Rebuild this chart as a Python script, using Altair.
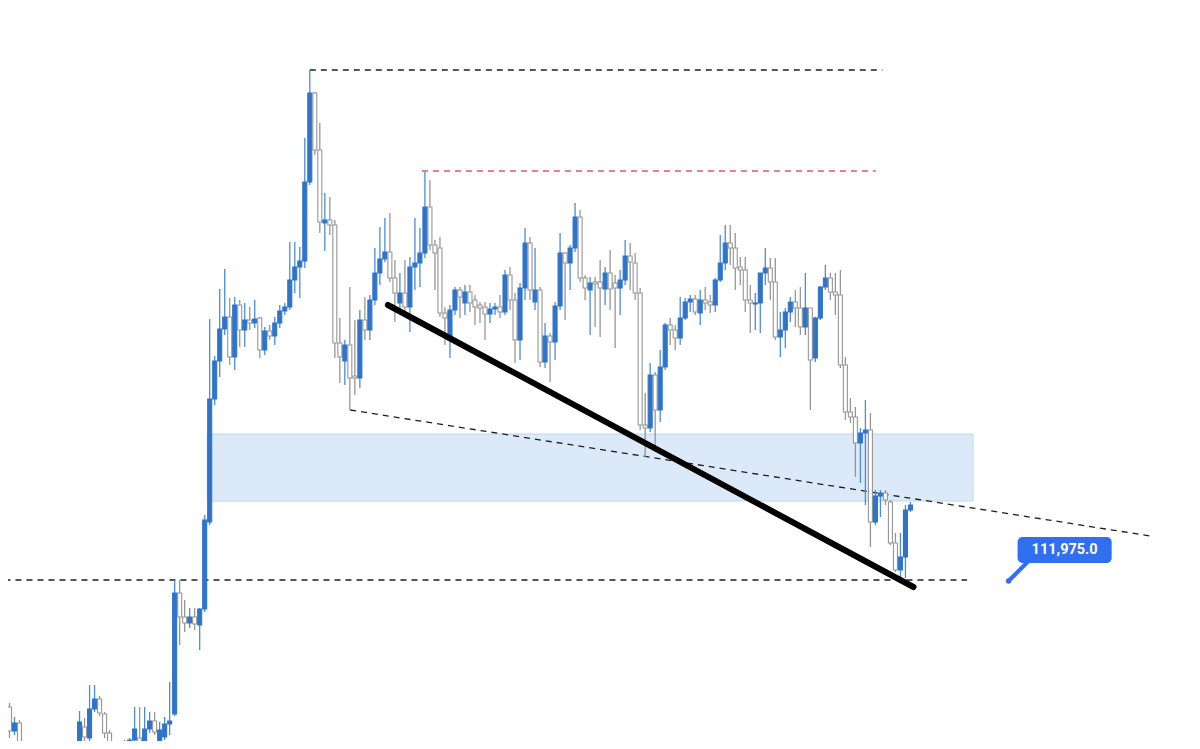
import altair as alt
import pandas as pd

# ---- candle data (BTC-like prices) ----
opens = [108975,108800,108200,108400,107475,106975,107350,107025,107600,107225,
106725,107100,107350,106975,106725,107475,108300,108025,108750,109000,
108625,108150,107750,107475,107675,107675,107975,108025,107750,108250,
108450,107825,108050,108375,108625,111650,111050,110900,111050,110850,
111250,113425,116500,117450,118250,118550,117550,118850,118225,118475,
118400,118525,117725,118200,118075,118400,118700,118800,119475,119800,
119950,121925,124150,122725,120900,120975,120850,117900,117450,117850,
117075,117025,118475,118225,118975,119650,120000,120175,119525,118900,
119150,118800,119800,119900,120150,121300,120350,120275,118650,117975,
118725,119225,118900,119175,118975,118850,118800,118625,118750,118800,
118675,119600,118975,117975,119275,120400,118925,119225,117425,118075,
117925,118825,120150,119900,120275,121050,119525,119225,119425,119425,
119250,119650,119400,119275,119475,120075,119900,119150,115850,115775,
117100,116225,117300,118350,118225,118025,118525,118925,119000,118650,
118975,118925,118850,119475,119900,120400,120275,119800,119725,118975,
118875,118900,119650,119775,119425,118050,118225,118675,118925,118775,
118300,118775,117525,118525,119300,119525,119175,119100,117350,116175,
116050,115400,115650,115725,113425,114075,114150,113925,112900,
112225,112550,113725]

highs = [109225,108900,108550,108475,107600,107475,107675,107875,107725,107350,
107225,107525,107600,107225,107475,108700,108525,109350,109350,109075,
108675,108225,107925,107775,107975,108025,108800,108800,108800,108675,
108675,108425,108550,109425,111975,111975,111475,111275,111275,111275,
113600,118500,117575,119250,119750,119025,119050,118975,118900,118800,
118975,118550,118300,118350,118550,118850,118900,120425,120425,120300,
123025,124725,124175,123400,121650,121550,120975,118525,117975,119300,
118475,118725,119050,119100,120275,120800,121025,121150,119975,119650,
119975,120050,121025,120775,122175,121975,120475,120550,118800,118850,
119300,119300,119350,119350,119100,118925,118925,118900,118900,119100,
119725,119800,119150,119400,120775,120550,120275,119300,118400,118150,
118925,120650,120175,120350,121400,121225,119600,119550,119550,119975,
119800,120225,119600,119725,120475,120400,120150,119275,116650,117400,
117175,117725,118400,118525,118350,119050,119025,119100,119100,119225,
119300,119100,119525,120600,120850,120850,120650,120050,120050,119350,
119150,119650,120275,120025,120025,118675,118775,119050,119225,119300,
119650,118775,118550,119325,119850,119650,119650,119725,117550,116525,
116300,115775,116475,116150,114225,114225,114225,113975,113150,
113150,113850,113925]

lows = [107225,108025,108100,107350,106975,106850,106925,106975,107100,106600,
106525,106975,106850,106600,106600,107350,107850,107925,108675,108575,
108025,107600,107350,107350,107525,107600,107925,107675,107675,108150,
108100,107775,107975,108100,108575,110350,110675,110775,110725,110225,
111175,113350,116350,117050,118100,117350,117225,117800,117800,118225,
118275,117525,117600,117975,117850,118275,118600,118725,119150,119025,
119775,121850,122600,120650,120200,120600,117525,116900,116850,116225,
116600,116775,117975,117975,118850,119350,119925,119425,118425,118725,
118600,118175,119225,119300,120025,120225,119225,118550,117850,117525,
118600,118525,118600,118675,118350,118400,117975,118400,118600,118525,
118600,118725,117400,117475,118975,118975,118725,117300,117275,116925,
117475,118725,118475,119225,120175,119425,118975,118100,118300,118050,
118850,118725,117775,118600,119350,119225,118975,115725,115050,115675,
115175,115925,117225,117850,117725,117850,118475,118675,118600,118350,
118725,118650,118675,119425,119725,119850,119225,119350,118675,118150,
118225,118150,119350,118975,117975,117550,117775,118425,118300,118100,
118100,116225,117425,118475,119225,118975,118600,117275,115975,115900,
114550,114400,113850,112800,113350,113550,113850,112850,112175,
111925,112025,113675]

closes = [107475,108200,108400,107475,107100,107350,107025,107600,107225,106725,
107100,107350,106975,106725,107225,108425,108050,108750,109000,108650,
108150,107750,107475,107675,107850,107975,108250,107750,108250,108450,
108175,108225,108375,108450,111650,111050,110900,111050,110875,111250,
113475,116500,117450,118250,118550,117550,118850,118225,118475,118400,
118500,117725,118200,118075,118400,118700,118800,119475,119800,119950,
121925,124150,122725,120925,120975,120850,117900,117550,117850,117025,
117025,118475,118225,118975,119650,120000,120175,119525,119150,119150,
118800,119800,119900,120150,121300,120350,120150,118650,118525,118725,
119225,119050,119175,118900,118800,118775,118625,118750,118800,118675,
119600,118975,117975,119275,120400,119225,119225,117425,118075,117925,
118825,120150,119900,120275,121050,119525,119275,119400,119375,119275,
119650,119250,119275,119475,120075,119925,119150,115850,115775,117100,
116225,117300,118350,118225,118025,118525,118925,119000,118675,118975,
118900,118850,119475,119900,120400,120275,119775,119725,118975,118900,
118900,119650,119775,119425,118050,118225,118675,118925,118775,118300,
118775,117475,118525,119300,119525,119175,119100,117350,116175,116050,
115400,115650,115725,113425,114075,114150,113975,112900,112225,
112550,113725,113850]

# ---- annotation levels (prices) and their candle-index spans ----
level_names = ["high", "swing", "support"]
level_start = [61, 83.4, 0]
level_end = [175.4, 174.05, 192.3]
level_price = [124725, 122200, 111975]

trend_start = [69.06, 116225]
trend_end = [228.9, 113075]

thick_start = [76.6, 118850]
thick_end = [181.6, 111800]

zone_x = [40.5, 193.5]
zone_price = [113950, 115625]

label_text = "111,975.0"
label_box_x = [202.4, 221.2]
label_box_price = [112400, 113050]
label_point = [200.6, 111950]
label_tail_top = [204.6, 112450]
label_text_pos = [211.8, 112725]

# ---- frames ----
n = len(opens)
candles = pd.DataFrame({
    "i": list(range(n)),
    "open": opens, "high": highs, "low": lows, "close": closes,
})
candles["dir"] = ["up" if c >= o else "down" for o, c in zip(opens, closes)]

xs = alt.Scale(domain=[1.7036, 236.25], nice=False, zero=False)
ys = alt.Scale(domain=[107950, 126275], nice=False, zero=False)

X = lambda f: alt.X(f, type="quantitative", scale=xs, axis=None)
Y = lambda f: alt.Y(f, type="quantitative", scale=ys, axis=None)

zone = alt.Chart(pd.DataFrame({"x0": [zone_x[0]], "x1": [zone_x[1]],
                               "y0": [zone_price[0]], "y1": [zone_price[1]]})
                 ).mark_rect(fill="#dce9f9", stroke="#bcd5f1", strokeWidth=1, clip=True
                 ).encode(x=X("x0"), x2="x1", y=Y("y0"), y2="y1")

wicks = alt.Chart(candles).mark_rule(strokeWidth=1.3, clip=True).encode(
    x=X("i"), y=Y("low"), y2="high",
    color=alt.Color("dir:N", scale=alt.Scale(domain=["up", "down"],
                                             range=["#4a8cdb", "#969696"]), legend=None))

bodies = alt.Chart(candles).mark_bar(size=4, strokeWidth=1.1, clip=True).encode(
    x=X("i"), y=Y("open"), y2="close",
    fill=alt.Fill("dir:N", scale=alt.Scale(domain=["up", "down"],
                                           range=["#2f74c8", "#ffffff"]), legend=None),
    stroke=alt.Stroke("dir:N", scale=alt.Scale(domain=["up", "down"],
                                               range=["#2f74c8", "#969696"]), legend=None))

levels = pd.DataFrame({"name": level_names, "x0": level_start, "x1": level_end,
                       "p": level_price})
black_levels = alt.Chart(levels[levels["name"] != "swing"]).mark_rule(
    color="#1e1e1e", strokeWidth=1.3, strokeDash=[6, 5], clip=True).encode(
    x=X("x0"), x2="x1", y=Y("p"))
red_level = alt.Chart(levels[levels["name"] == "swing"]).mark_rule(
    color="#e0566a", strokeWidth=1.3, strokeDash=[6, 5], clip=True).encode(
    x=X("x0"), x2="x1", y=Y("p"))

trend = alt.Chart(pd.DataFrame({"x0": [trend_start[0]], "x1": [trend_end[0]],
                                "y0": [trend_start[1]], "y1": [trend_end[1]]})
                  ).mark_rule(color="#1e1e1e", strokeWidth=1.3, strokeDash=[6, 5], clip=True
                  ).encode(x=X("x0"), x2="x1", y=Y("y0"), y2="y1")

thick = alt.Chart(pd.DataFrame({"x0": [thick_start[0]], "x1": [thick_end[0]],
                                "y0": [thick_start[1]], "y1": [thick_end[1]]})
                  ).mark_rule(color="#000000", strokeWidth=6, strokeCap="round", clip=True
                  ).encode(x=X("x0"), x2="x1", y=Y("y0"), y2="y1")

label_blue = "#2f6ff0"
tail = alt.Chart(pd.DataFrame({"x0": [label_point[0]], "x1": [label_tail_top[0]],
                               "y0": [label_point[1]], "y1": [label_tail_top[1]]})
                 ).mark_rule(color=label_blue, strokeWidth=4, clip=True
                 ).encode(x=X("x0"), x2="x1", y=Y("y0"), y2="y1")
dot = alt.Chart(pd.DataFrame({"x": [label_point[0]], "y": [label_point[1]]})
                ).mark_circle(color=label_blue, size=28, opacity=1
                ).encode(x=X("x"), y=Y("y"))
box = alt.Chart(pd.DataFrame({"x0": [label_box_x[0]], "x1": [label_box_x[1]],
                              "y0": [label_box_price[0]], "y1": [label_box_price[1]]})
                ).mark_rect(fill=label_blue, cornerRadius=5
                ).encode(x=X("x0"), x2="x1", y=Y("y0"), y2="y1")
text = alt.Chart(pd.DataFrame({"x": [label_text_pos[0]], "y": [label_text_pos[1]],
                               "t": [label_text]})
                 ).mark_text(color="white", font="Roboto", fontWeight="bold", fontSize=14.5,
                             align="center", baseline="middle"
                 ).encode(x=X("x"), y=Y("y"), text="t:N")

chart = alt.layer(zone, black_levels, red_level, trend, wicks, bodies, thick,
                  tail, box, dot, text).properties(
    width=1184, height=733, autosize="none", padding=0, background="white"
).configure_view(stroke=None)

chart.save("out.html", embed_options={"renderer": "svg", "actions": False})
